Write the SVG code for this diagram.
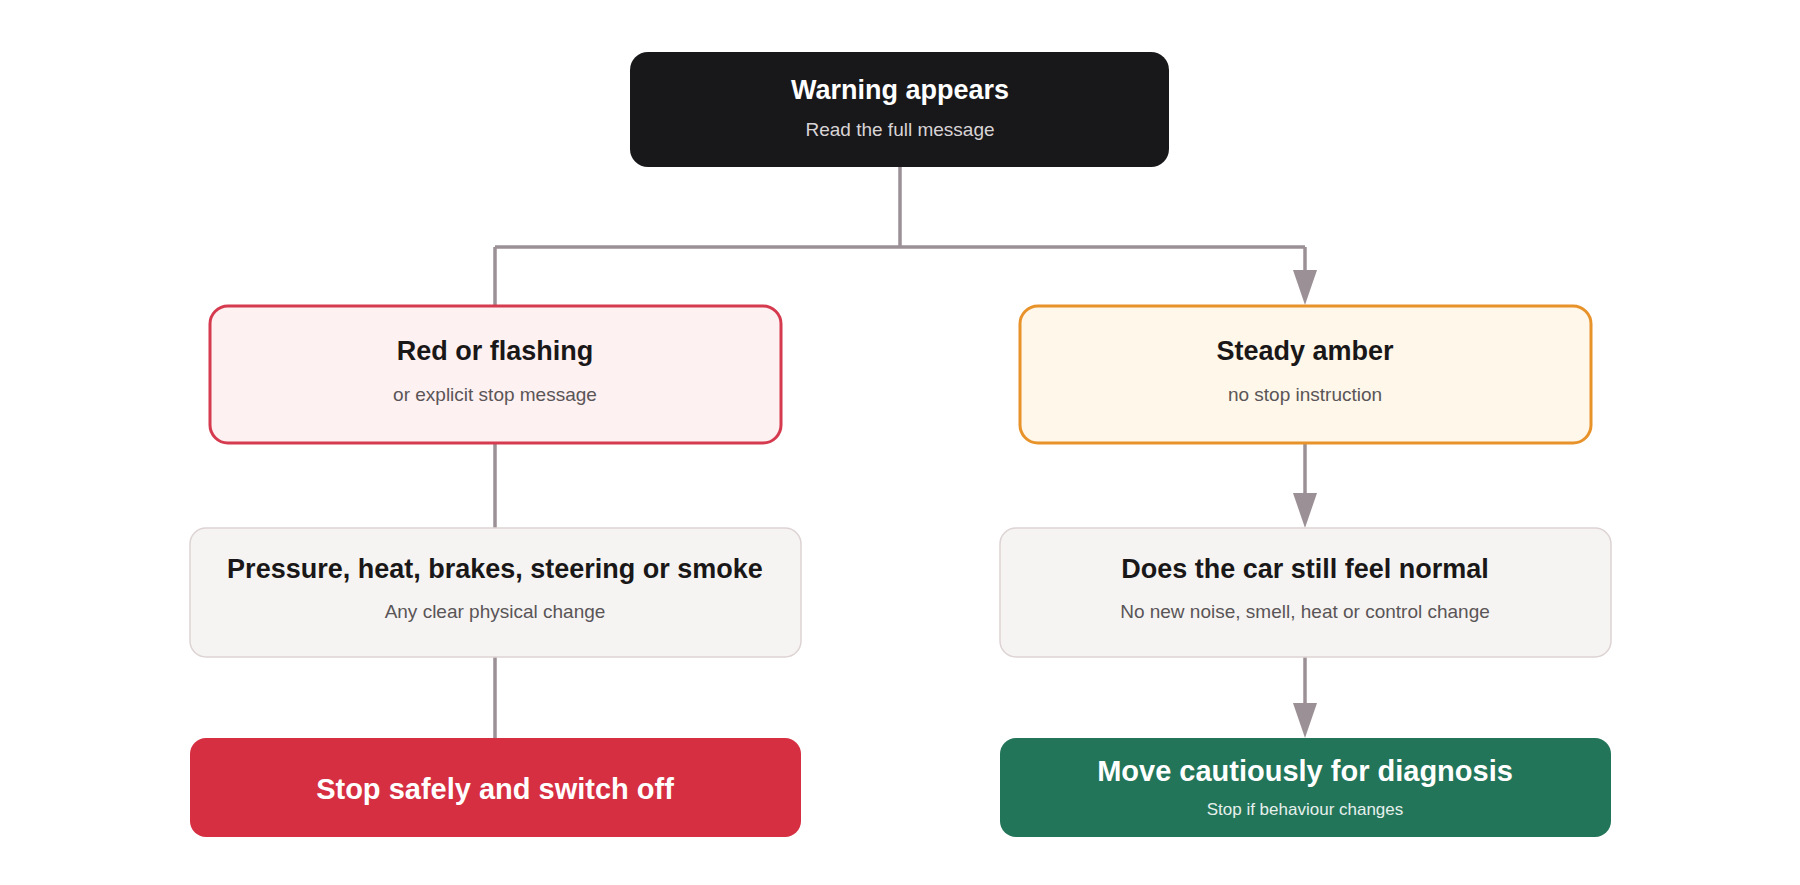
<svg xmlns="http://www.w3.org/2000/svg" width="1800" height="885" viewBox="0 0 1800 885">
<defs>
<marker id="arr" viewBox="0 0 10 10" refX="10" refY="5" markerWidth="9" markerHeight="12" markerUnits="userSpaceOnUse" orient="auto" preserveAspectRatio="none">
<path d="M0,0 L10,5 L0,10 Z" fill="#9b9095"/>
</marker>
<style>
text{font-family:"Liberation Sans",Arial,sans-serif;text-anchor:middle}
.t{font-size:27px;font-weight:bold;fill:#1a1718}
.s{font-size:19px;fill:#5a5557}
.w{fill:#fff}
.c{fill:none;stroke:#9b9095;stroke-width:3.5}
</style>
</defs>
<rect width="1800" height="885" fill="#fff"/>
<g id="connectors">
<path class="c" d="M900,166 V247 M495,247 H1305 M495,247 V305"/>
<path class="c" d="M1305,247 V270" />
<path d="M1293,270 L1317,270 L1305,305 Z" fill="#9b9095"/>
<path class="c" d="M495,443 V528 M495,657 V738"/>
<path class="c" d="M1305,443 V494"/>
<path d="M1293,493 L1317,493 L1305,528 Z" fill="#9b9095"/>
<path class="c" d="M1305,657 V704"/>
<path d="M1293,703 L1317,703 L1305,738 Z" fill="#9b9095"/>
</g>
<g id="warning">
<rect x="630" y="52" width="539" height="115" rx="18" fill="#18171a"/>
<text class="t w" x="900" y="99">Warning appears</text>
<text class="s" x="900" y="136" fill="#ddd" style="fill:#d8d4d6">Read the full message</text>
</g>
<g id="red">
<rect x="210" y="306" width="571" height="137" rx="18" fill="#fdf1f1" stroke="#d63a4e" stroke-width="3"/>
<text class="t" x="495" y="360">Red or flashing</text>
<text class="s" x="495" y="401">or explicit stop message</text>
</g>
<g id="amber">
<rect x="1020" y="306" width="571" height="137" rx="18" fill="#fef7ea" stroke="#e8922a" stroke-width="3"/>
<text class="t" x="1305" y="360">Steady amber</text>
<text class="s" x="1305" y="401">no stop instruction</text>
</g>
<g id="physical">
<rect x="190" y="528" width="611" height="129" rx="16" fill="#f5f4f2" stroke="#ddd3d3" stroke-width="1.5"/>
<text class="t" x="495" y="578">Pressure, heat, brakes, steering or smoke</text>
<text class="s" x="495" y="618">Any clear physical change</text>
</g>
<g id="normal">
<rect x="1000" y="528" width="611" height="129" rx="16" fill="#f5f4f2" stroke="#ddd3d3" stroke-width="1.5"/>
<text class="t" x="1305" y="578">Does the car still feel normal</text>
<text class="s" x="1305" y="618">No new noise, smell, heat or control change</text>
</g>
<g id="stop">
<rect x="190" y="738" width="611" height="99" rx="16" fill="#d62f42"/>
<text class="t w" x="495" y="799" style="font-size:29px">Stop safely and switch off</text>
</g>
<g id="move">
<rect x="1000" y="738" width="611" height="99" rx="16" fill="#23755a"/>
<text class="t w" x="1305" y="781" style="font-size:29px">Move cautiously for diagnosis</text>
<text class="s" x="1305" y="815" style="fill:#e6f0ec;font-size:17px">Stop if behaviour changes</text>
</g>
</svg>
